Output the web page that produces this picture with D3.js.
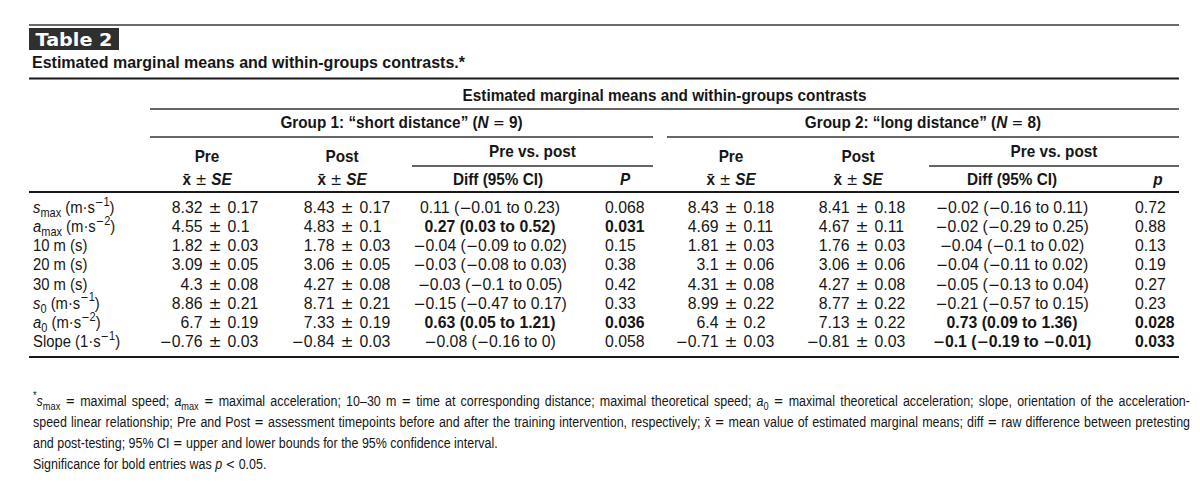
<!DOCTYPE html>
<html>
<head>
<meta charset="utf-8">
<script src="https://cdn.jsdelivr.net/npm/d3@7"></script>
<style>
body { margin: 0; background: #fff; }
text { font-family: "Liberation Sans", Arial, Helvetica, sans-serif; fill: #161616; }
.math { font-family: "DejaVu Sans", sans-serif; }
</style>
</head>
<body>
<div id="chart"></div>
<script>
// row labels: italic symbol, subscript, unit text, superscript
var rowSym  = ["s", "a", "", "", "", "s", "a", ""];
var rowSub  = ["max", "max", "", "", "", "0", "0", ""];
var rowUnit = [" (m·s", " (m·s", "10 m (s)", "20 m (s)", "30 m (s)", " (m·s", " (m·s", "Slope (1·s"];
var rowSup  = ["−1", "−2", "", "", "", "−1", "−2", "−1"];

// group 1: "short distance"
var g1PreMean  = ["8.32", "4.55", "1.82", "3.09", "4.3", "8.86", "6.7", "−0.76"];
var g1PreSE    = ["0.17", "0.1", "0.03", "0.05", "0.08", "0.21", "0.19", "0.03"];
var g1PostMean = ["8.43", "4.83", "1.78", "3.06", "4.27", "8.71", "7.33", "−0.84"];
var g1PostSE   = ["0.17", "0.1", "0.03", "0.05", "0.08", "0.21", "0.19", "0.03"];
var g1Diff = ["0.11 (−0.01 to 0.23)", "0.27 (0.03 to 0.52)", "−0.04 (−0.09 to 0.02)", "−0.03 (−0.08 to 0.03)",
              "−0.03 (−0.1 to 0.05)", "−0.15 (−0.47 to 0.17)", "0.63 (0.05 to 1.21)", "−0.08 (−0.16 to 0)"];
var g1P = ["0.068", "0.031", "0.15", "0.38", "0.42", "0.33", "0.036", "0.058"];

// group 2: "long distance"
var g2PreMean  = ["8.43", "4.69", "1.81", "3.1", "4.31", "8.99", "6.4", "−0.71"];
var g2PreSE    = ["0.18", "0.11", "0.03", "0.06", "0.08", "0.22", "0.2", "0.03"];
var g2PostMean = ["8.41", "4.67", "1.76", "3.06", "4.27", "8.77", "7.13", "−0.81"];
var g2PostSE   = ["0.18", "0.11", "0.03", "0.06", "0.08", "0.22", "0.22", "0.03"];
var g2Diff = ["−0.02 (−0.16 to 0.11)", "−0.02 (−0.29 to 0.25)", "−0.04 (−0.1 to 0.02)", "−0.04 (−0.11 to 0.02)",
              "−0.05 (−0.13 to 0.04)", "−0.21 (−0.57 to 0.15)", "0.73 (0.09 to 1.36)", "−0.1 (−0.19 to −0.01)"];
var g2P = ["0.72", "0.88", "0.13", "0.19", "0.27", "0.23", "0.028", "0.033"];

// footnote lines, [text, style]
var note1 = [["*", "sup"], ["s", "i"], ["max", "sub"], [" = maximal speed; ", ""], ["a", "i"], ["max", "sub"],
             [" = maximal acceleration; 10–30 m = time at corresponding distance; maximal theoretical speed; ", ""],
             ["a", "i"], ["0", "sub"], [" = maximal theoretical acceleration; slope, orientation of the acceleration-", ""]];
var note2 = [["speed linear relationship; Pre and Post = assessment timepoints before and after the training intervention, respectively; x̄ = mean value of estimated marginal means; diff = raw difference between pretesting", ""]];
var note3 = [["and post-testing; 95% CI = upper and lower bounds for the 95% confidence interval.", ""]];
var note4 = [["Significance for bold entries was ", ""], ["p", "i"], [" < 0.05.", ""]];

var W = 1200, H = 495;
var svg = d3.select("#chart").append("svg").attr("width", W).attr("height", H);

var SIG = 0.05;
var HEAD_SX = 0.94, LABEL_SX = 0.91;
var MATH = /([−=<±])/;

var rowY = d3.scalePoint().domain(d3.range(rowUnit.length)).range([213, 347]);

// column anchors
var colX = d3.scaleOrdinal()
	.domain(["label", "g1pre", "g1post", "g1diff", "g1p", "g2pre", "g2post", "g2diff", "g2p"])
	.range([33, 215, 347, 490, 605, 731, 862, 1012, 1135]);

function txt(parent, x, y, s, opts){
	opts = opts || {};
	var t = parent.append("text")
		.attr("transform", `translate(${x},${y}) scale(${opts.sx || 1},1)`)
		.attr("text-anchor", opts.anchor || "start")
		.style("font-size", (opts.size || 15.8) + "px")
		.style("font-weight", opts.bold ? "bold" : null)
		.style("font-style", opts.italic ? "italic" : null);
	if(s !== null) mathText(t, s, opts.size || 15.8);
	return t;
}

// wide math glyphs (minus, equals, less, plus-minus) like the typeset original
function mathText(parent, s, size){
	s.split(MATH).forEach(function(part){
		if(!part) return;
		var ts = parent.append("tspan").text(part);
		if(MATH.test(part)) ts.attr("class", "math").style("font-size", (size*0.92) + "px").style("font-weight", "normal").style("font-style", "normal");
	});
	return parent;
}

// rich text from [text, style] segments
function rich(t, segs, size){
	var shift = 0;
	segs.forEach(function(sg){
		var target = sg[1] === "sub" ? size*0.25 : sg[1] === "sup" ? -size*0.45 : 0;
		var ts = t.append("tspan").attr("dy", target - shift);
		shift = target;
		if(sg[1] === "sub" || sg[1] === "sup") ts.style("font-size", (size*0.74) + "px");
		if(sg[1] === "i") ts.style("font-style", "italic");
		mathText(ts, sg[0], sg[1] === "sub" || sg[1] === "sup" ? size*0.74 : size);
	});
	return t;
}

function hline(x1, x2, y, w, c){
	svg.append("line").attr("x1", x1).attr("x2", x2).attr("y1", y).attr("y2", y)
		.attr("stroke", c || "#1a1a1a").attr("stroke-width", w);
}

// ---- title block
hline(29, 1179, 25, 2, "#6a6a6a");
svg.append("rect").attr("x", 29).attr("y", 28).attr("width", 90).attr("height", 22).attr("fill", "#2f2f2f");
var tb = svg.append("text").attr("text-anchor", "middle")
	.style("font-family", "'DejaVu Sans', sans-serif").style("font-weight", "bold")
	.style("font-size", "17px").style("fill", "#fff").text("Table 2");
var tbLen = tb.node().getComputedTextLength();
tb.attr("transform", `translate(74,45.5) scale(${77/tbLen},1)`);
txt(svg, 32, 68, "Estimated marginal means and within-groups contrasts.*", {bold: true, size: 16});
hline(29, 1179, 78.5, 2.2);

// ---- column headers
txt(svg, 664.5, 101, "Estimated marginal means and within-groups contrasts", {anchor: "middle", bold: true, size: 16.3, sx: HEAD_SX});
hline(150, 1179, 109, 1.4, "#333");

var groups = [
	{label: "Group 1: “short distance” (", n: "9", x1: 150, x2: 653, sub1: 412, pre: 207, post: 342, diff: 498, p: 625, pch: "P"},
	{label: "Group 2: “long distance” (", n: "8", x1: 667, x2: 1179, sub1: 929, pre: 731, post: 858, diff: 1012, p: 1158, pch: "p"}
];
groups.forEach(function(g){
	var gt = txt(svg, (g.x1 + g.x2)/2, 128, null, {anchor: "middle", bold: true, size: 16.3, sx: HEAD_SX});
	gt.append("tspan").text(g.label);
	gt.append("tspan").style("font-style", "italic").text("N");
	mathText(gt, " = " + g.n + ")", 16.3);
	hline(g.x1, g.x2, 137, 1.4, "#333");

	[["Pre", g.pre], ["Post", g.post]].forEach(function(h){
		txt(svg, h[1], 162, h[0], {anchor: "middle", bold: true, size: 16.3, sx: HEAD_SX});
		var st = txt(svg, h[1], 185, null, {anchor: "middle", bold: true, size: 16.3, sx: HEAD_SX});
		mathText(st, "x\u0304 ± ", 16.3);
		st.append("tspan").style("font-style", "italic").text("SE");
	});
	txt(svg, (g.sub1 + g.x2)/2, 157, "Pre vs. post", {anchor: "middle", bold: true, size: 16.3, sx: HEAD_SX});
	hline(g.sub1, g.x2, 166, 1.4, "#333");
	txt(svg, g.diff, 185, "Diff (95% CI)", {anchor: "middle", bold: true, size: 16.3, sx: HEAD_SX});
	txt(svg, g.p, 185, g.pch, {anchor: "middle", bold: true, italic: true, size: 16.3, sx: HEAD_SX});
});
hline(29, 1179, 192, 2.2);

// ---- body rows
var body = svg.append("g");
rowUnit.forEach(function(u, i){
	var y = rowY(i);
	var segs = [];
	if(rowSym[i]) segs.push([rowSym[i], "i"], [rowSub[i], "sub"]);
	segs.push([u, ""]);
	if(rowSup[i]) segs.push([rowSup[i], "sup"], [")", ""]);
	rich(txt(body, colX("label"), y, null, {sx: LABEL_SX, size: 16.3}), segs, 16.3);
});

function meanSE(key, means, ses){
	means.forEach(function(m, i){
		var x = colX(key), y = rowY(i);
		txt(body, x - 12.5, y, m, {anchor: "end"});
		txt(body, x, y, "±", {anchor: "middle", size: 17});
		txt(body, x + 12.5, y, ses[i]);
	});
}
meanSE("g1pre", g1PreMean, g1PreSE);
meanSE("g1post", g1PostMean, g1PostSE);
meanSE("g2pre", g2PreMean, g2PreSE);
meanSE("g2post", g2PostMean, g2PostSE);

function contrast(dkey, pkey, diffs, ps){
	diffs.forEach(function(d, i){
		var sig = parseFloat(ps[i]) < SIG;
		var t = txt(body, colX(dkey), rowY(i), d, {anchor: "middle", bold: sig});
		if(sig) t.selectAll("tspan.math").style("font-weight", "bold");
		txt(body, colX(pkey), rowY(i), ps[i], {bold: sig});
	});
}
contrast("g1diff", "g1p", g1Diff, g1P);
contrast("g2diff", "g2p", g2Diff, g2P);

hline(29, 1179, 357, 2.2);

// ---- footnotes
var NOTE_SIZE = 14.8, NOTE_L = 33, NOTE_R = 1190;
var notes = [note1, note2, note3, note4];
var noteY = d3.scalePoint().domain(d3.range(notes.length)).range([406, 469]);
var nodes = notes.map(function(n, i){
	return rich(txt(svg, NOTE_L, noteY(i), null, {size: NOTE_SIZE}), n, NOTE_SIZE);
});
// condense like the reference: the second line fills the measure with near-normal spacing
var noteSx = 0.985 * (NOTE_R - NOTE_L) / nodes[1].node().getComputedTextLength();
nodes.forEach(function(t, i){
	t.attr("transform", `translate(${NOTE_L},${noteY(i)}) scale(${noteSx},1)`);
	if(i < 2){
		// justified lines: adjust the word gaps
		var len = t.node().getComputedTextLength();
		var gaps = notes[i].map(function(s){ return s[0]; }).join("").split(" ").length - 1;
		t.style("word-spacing", (((NOTE_R - NOTE_L)/noteSx - len)/gaps) + "px");
	}
});
</script>
</body>
</html>
